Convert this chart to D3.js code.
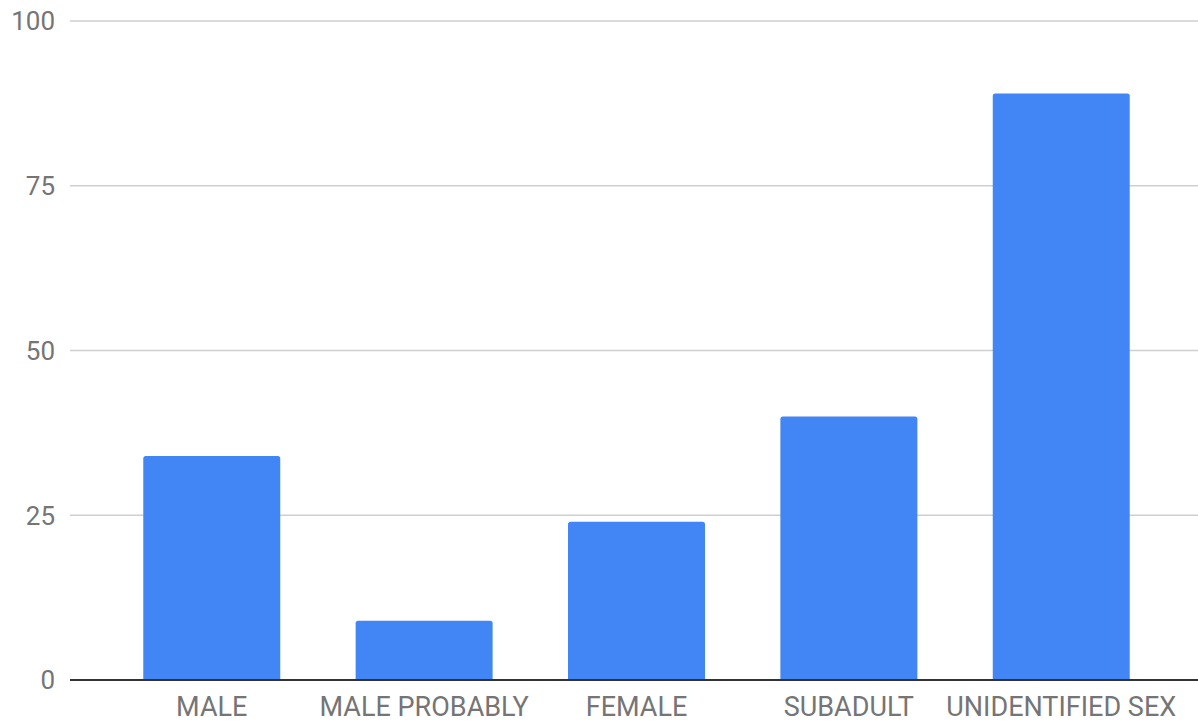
<!DOCTYPE html>
<html>
<head>
<meta charset="utf-8">
<script src="https://cdn.jsdelivr.net/npm/d3@7"></script>
<style>
  html, body { margin: 0; padding: 0; background: #fff; }
  svg text { font-family: Roboto, "Noto Sans", sans-serif; }
</style>
</head>
<body>
<svg id="chart" width="1198" height="721"></svg>
<script>
// Counts of individuals by sex category
const categories = ["MALE", "MALE PROBABLY", "FEMALE", "SUBADULT", "UNIDENTIFIED SEX"];
const counts = [34, 9, 24, 40, 89];
const yTicks = [0, 25, 50, 75, 100];

const svg = d3.select("#chart");
const plotLeft = 70, plotRight = 1203, plotTop = 21, plotBottom = 680;

const x = d3.scaleBand()
  .domain(categories)
  .range([plotLeft, plotRight])
  .paddingInner(0.355)
  .paddingOuter(0.345);

const y = d3.scaleLinear()
  .domain([0, 100])
  .range([plotBottom, plotTop]);

// Horizontal gridlines
svg.append("g")
  .selectAll("line")
  .data(yTicks.filter(t => t !== 0))
  .join("line")
  .attr("x1", plotLeft)
  .attr("x2", 1198)
  .attr("y1", d => y(d))
  .attr("y2", d => y(d))
  .attr("stroke", "#cfcfcf")
  .attr("stroke-width", 1.5);

// Y tick labels
svg.append("g")
  .selectAll("text")
  .data(yTicks)
  .join("text")
  .attr("x", 55)
  .attr("y", d => y(d))
  .attr("dy", "0.36em")
  .attr("text-anchor", "end")
  .attr("fill", "#757575")
  .attr("font-size", 26)
  .text(d => d);

// Bars with slightly rounded tops
const r = 2.5;
svg.append("g")
  .selectAll("path")
  .data(categories.map((c, i) => ({ c, v: counts[i] })))
  .join("path")
  .attr("fill", "#4285f4")
  .attr("d", d => {
    const x0 = x(d.c), w = x.bandwidth(), y0 = y(d.v), y1 = y(0);
    return `M${x0},${y1}V${y0 + r}Q${x0},${y0} ${x0 + r},${y0}H${x0 + w - r}Q${x0 + w},${y0} ${x0 + w},${y0 + r}V${y1}Z`;
  });

// Baseline
svg.append("line")
  .attr("x1", plotLeft)
  .attr("x2", 1198)
  .attr("y1", y(0))
  .attr("y2", y(0))
  .attr("stroke", "#333")
  .attr("stroke-width", 2);

// Category labels
svg.append("g")
  .selectAll("text")
  .data(categories)
  .join("text")
  .attr("x", d => x(d) + x.bandwidth() / 2)
  .attr("y", 716)
  .attr("text-anchor", "middle")
  .attr("fill", "#757575")
  .attr("font-size", 27)
  .text(d => d);
</script>
</body>
</html>
